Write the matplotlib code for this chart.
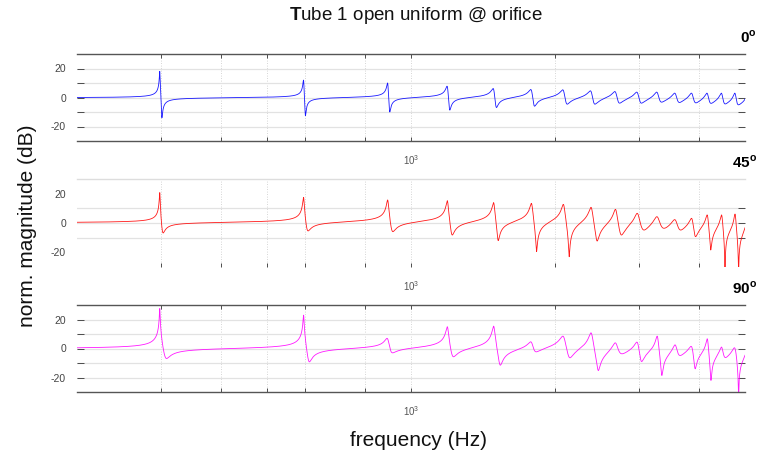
import numpy as np
import matplotlib
matplotlib.use("Agg")
import matplotlib.pyplot as plt
from matplotlib.ticker import FixedLocator, FixedFormatter, NullFormatter

plt.rcParams['font.family'] = ['Liberation Sans', 'DejaVu Sans']
plt.rcParams['mathtext.fontset'] = 'custom'
plt.rcParams['mathtext.rm'] = 'Liberation Sans'
plt.rcParams['mathtext.bf'] = 'Liberation Sans:bold'

# ---------------- data ----------------
# (the last resonance lies just beyond the right edge; only its rising flank shows)
resonance_hz = [298, 596, 894, 1192, 1490, 1788, 2086, 2384, 2682, 2980,
                3278, 3576, 3874, 4172, 4470, 4768, 5066]

# panel 0 deg (blue): peak level, notch level (dB), peak-to-notch spacing (Hz)
peak_db_0 = [18, 12, 10, 7.8, 6.2, 5.5, 5.3, 4.6, 4.1, 3.7, 3.7, 3.0, 3.0, 3.0, 3.0, 3.0, 3.0]
trough_db_0 = [-14, -12.5, -10, -8.7, -6.9, -6, -4.6, -4.6, -3.9, -3.9, -3.2, -2.8, -2.8, -2.8, -2.8, -2.8, -2.8]
spacing_hz_0 = [3, 5, 8, 12, 16, 20, 25, 28, 30, 32, 33, 34, 35, 35, 35, 35, 35]
# panel 45 deg (red)
peak_db_45 = [20.7, 17.5, 15.7, 15.2, 13.9, 13.4, 12.7, 10.7, 9.3, 6.6, 4.3, 2.3, 3.2, 5.5, 5.5, 6.1, 6.0]
trough_db_45 = [-6.8, -5.4, -5.9, -8.2, -12, -19.5, -23, -12.3, -8.2, -4.8, -3.6, -4.8, -9.3, -18.4, -34, -34, -10]
spacing_hz_45 = [4, 10, 18, 25, 31, 43, 57, 65, 65, 65, 60, 55, 55, 65, 70, 80, 70]
# panel 90 deg (magenta)
peak_db_90 = [27.6, 23, 7, 15, 15.4, 4.6, 8.5, 10.8, 3.9, 4.4, 8.5, 2.5, 1.5, 6.7, 1.0, 0.5, 2.0]
trough_db_90 = [-6.9, -9.2, -3.0, -5.7, -11.5, -2.3, -6.4, -15.2, -2.5, -9, -18.6, -2.5, -14, -22, -2.5, -34, -5]
spacing_hz_90 = [8, 15, 12, 28, 45, 20, 55, 80, 40, 50, 70, 40, 55, 70, 40, 80, 50]

edge_db = [0.0, 0.5, 0.5]          # level at the low-frequency edge
panel_labels = ['0$^{\\mathbf{o}}$', '45$^{\\mathbf{o}}$', '90$^{\\mathbf{o}}$']
panel_colors = ['#0000ff', '#ff0000', '#ff00ff']

f_min, f_max = 200, 5000
y_min, y_max = -30, 30


def response(freq, peaks, troughs, spacing, edge_value):
    """Sum of pole/zero pairs whose peak/notch levels are matched to the read values."""
    f0 = np.array(resonance_hz, float)
    P = np.array(peaks, float)
    T = np.array(troughs, float)
    d = np.array(spacing, float)
    n = len(f0)
    a = P.copy()
    b = -T.copy()
    bounds = np.concatenate(([freq[0]], 0.5 * (f0[1:] + f0[:-1]), [freq[-1]]))
    pk_masks = [(freq >= bounds[k]) & (freq <= f0[k] + 0.5 * d[k]) for k in range(n)]
    tr_masks = [(freq > f0[k] + 0.5 * d[k]) & (freq <= bounds[k + 1]) for k in range(n)]

    def curve(a, b):
        gp = d / 10 ** (a / 20)
        gz = d / 10 ** (b / 20)
        p = f0 - 1j * gp
        z = f0 + d - 1j * gz
        comp = 20 * np.log10(np.abs((freq[:, None] - z) / (freq[:, None] - p)))
        y = comp.sum(1)
        return y - y[0] + edge_value

    for _ in range(14):
        y = curve(a, b)
        for k in range(n):
            if pk_masks[k].any():
                a[k] += 0.8 * (P[k] - y[pk_masks[k]].max())
            if tr_masks[k].any():
                b[k] += 0.8 * (y[tr_masks[k]].min() - T[k])
        a = np.clip(a, -3, 60)
        b = np.clip(b, -3, 60)
    return curve(a, b)


freq = np.logspace(np.log10(f_min), np.log10(5300), 32000)
series = [
    response(freq, peak_db_0, trough_db_0, spacing_hz_0, edge_db[0]),
    response(freq, peak_db_45, trough_db_45, spacing_hz_45, edge_db[1]),
    response(freq, peak_db_90, trough_db_90, spacing_hz_90, edge_db[2]),
]

W, H = 761, 458
fig = plt.figure(figsize=(W / 100, H / 100), dpi=100)

ax_px = [(54, 141), (179, 267), (305, 392)]
left_px, right_px = 77, 745
yticks = [-20, -10, 0, 10, 20]

for i, (top, bot) in enumerate(ax_px):
    ax = fig.add_axes([left_px / W, 1 - bot / H, (right_px - left_px) / W, (bot - top) / H])
    y = np.clip(series[i], y_min - 5, y_max + 5)
    ax.plot(freq, y, color=panel_colors[i], lw=0.6, alpha=0.9)
    ax.set_xscale('log')
    ax.set_xlim(f_min, f_max)
    ax.set_ylim(y_min, y_max)

    ax.xaxis.set_major_locator(FixedLocator([1000]))
    ax.xaxis.set_major_formatter(FixedFormatter(['$10^3$']))
    ax.xaxis.set_minor_locator(FixedLocator([300, 400, 500, 600, 800, 2000, 3000, 4000]))
    ax.xaxis.set_minor_formatter(NullFormatter())
    ax.yaxis.set_major_locator(FixedLocator(yticks))
    ax.yaxis.set_major_formatter(FixedFormatter(['-20', '', '0', '', '20']))

    ax.tick_params(axis='x', which='both', direction='in', top=True, bottom=True,
                   length=3, width=0.6, color='#333333', labelsize=7,
                   labelcolor='#555555', pad=9)
    ax.tick_params(axis='y', which='major', direction='in', left=True, right=True,
                   length=5, width=0.6, color='#333333', labelsize=7.5,
                   labelcolor='#444444', pad=8)

    ax.grid(True, axis='x', which='both', linestyle=(0, (1, 2)), color='#c8c8c8', lw=0.6)
    ax.grid(True, axis='y', which='major', linestyle='-', color='#e2e2e2', lw=0.9)
    ax.set_axisbelow(True)
    ax.spines['left'].set_visible(False)
    ax.spines['right'].set_visible(False)
    for s in ('top', 'bottom'):
        ax.spines[s].set_color('#555555')
        ax.spines[s].set_linewidth(1.0)

    if i == 1:
        ax.spines['top'].set_color('#dddddd')
        ax.spines['bottom'].set_visible(False)
        ax.tick_params(axis='x', which='both', top=False)
        for tk, v in zip(ax.yaxis.get_major_ticks(), yticks):
            tk.tick1line.set_visible(False)
            if abs(v) == 20:
                tk.tick2line.set_visible(False)
        for gl, v in zip(ax.get_ygridlines(), yticks):
            if abs(v) == 20:
                gl.set_visible(False)

    fig.text(757 / W, 1 - (top - 17) / H, panel_labels[i], ha='right', va='center',
             fontsize=11, fontweight='bold')

fig.text(416 / W, 1 - 15 / H, r'$\mathbf{T}$ube 1 open uniform @ orifice',
         ha='center', va='center', fontsize=13.5, color='#111111')
fig.text(28 / W, 1 - 226 / H, 'norm. magnitude (dB)', rotation=90,
         ha='center', va='center', fontsize=15, color='#111111')
fig.text(419 / W, 1 - 440 / H, 'frequency (Hz)', ha='center', va='center',
         fontsize=15, color='#111111')

fig.savefig('out.png', dpi=100)
